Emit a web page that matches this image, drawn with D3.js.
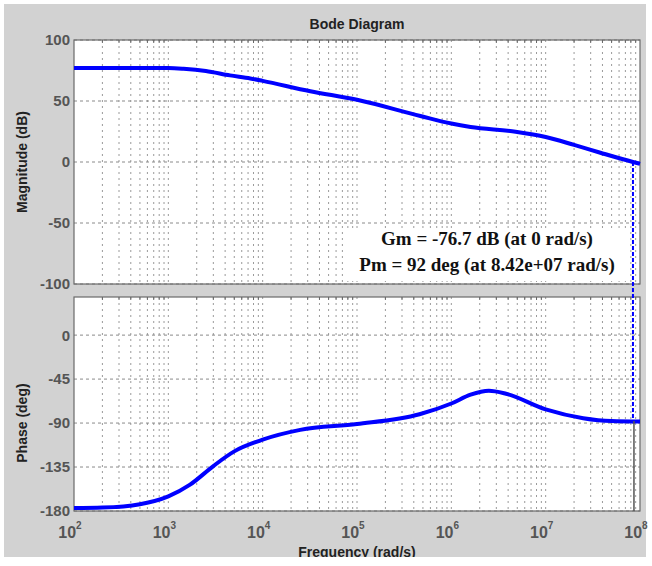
<!DOCTYPE html>
<html>
<head>
<meta charset="utf-8">
<script src="https://cdn.jsdelivr.net/npm/d3@7"></script>
<style>
  body { margin: 0; background: #fff; }
  text { font-family: "Liberation Sans", Arial, sans-serif; }
</style>
</head>
<body>
<div id="chart"></div>
<script>
// magnitude readings (rad/s, dB)
const magFreq = [1e2, 3e2, 1e3, 1.45e3, 2.5e3, 4.5e3, 7.4e3, 1e4, 3.2e4, 1e5, 4.7e5, 1e6, 1.6e6, 4.8e6, 1e7, 2e7, 3.8e7, 8.42e7, 1e8];
const magDb   = [77, 77, 77, 76.4, 74.6, 71, 68.5, 66.5, 58, 51, 37.7, 31.5, 28.7, 24.8, 20.5, 14, 7.6, 0, -1.5];

// phase readings (rad/s, deg)
const phaseFreq = [1e2, 2e2, 5e2, 1e3, 1.7e3, 3e3, 5e3, 1e4, 2.5e4, 1e5, 4.6e5, 1e6, 1.6e6, 2.5e6, 3.8e6, 1e7, 2.5e7, 5e7, 1e8];
const phaseDeg  = [-177, -176.5, -173, -165, -153, -134, -119, -107, -97, -91, -81, -70, -61, -57, -60, -76, -85, -88, -88.5];

const magTicks = [100, 50, 0, -50, -100];
const phaseTicks = [0, -45, -90, -135, -180];
const freqTicks = [1e2, 1e3, 1e4, 1e5, 1e6, 1e7, 1e8];

const wc = 8.42e7;           // gain crossover
const pmAtWc = -88;          // phase at crossover
const gmText = "Gm = -76.7 dB (at 0 rad/s)";
const pmText = "Pm = 92 deg (at 8.42e+07 rad/s)";

const width = 652, height = 566;
const left = 74, right = 640;

const svg = d3.select("#chart").append("svg")
    .attr("width", width)
    .attr("height", height);

// gray figure background
svg.append("rect")
    .attr("x", 4).attr("y", 4)
    .attr("width", 642).attr("height", 553)
    .attr("fill", "#d2d2d2");

const x = d3.scaleLog().domain([1e2, 1e8]).range([left, right]);
const yMag = d3.scaleLinear().domain([-100, 100]).range([284, 40]);
const yPh = d3.scaleLinear().domain([-180, 39]).range([511, 297]);

const minorFreqs = [];
for (let e = 2; e < 8; e++) {
    for (let k = 2; k <= 9; k++) minorFreqs.push(k * Math.pow(10, e));
}

const drawPanel = (y, ticks) => {
    const [y0, y1] = y.range();
    const g = svg.append("g");
    g.append("rect")
        .attr("x", left).attr("y", y1)
        .attr("width", right - left).attr("height", y0 - y1)
        .attr("fill", "#fff");

    // vertical grid (major + minor)
    g.selectAll(".vgrid")
        .data(minorFreqs.concat(freqTicks.slice(1, -1)))
        .join("line")
        .attr("x1", d => x(d)).attr("x2", d => x(d))
        .attr("y1", y1).attr("y2", y0)
        .attr("stroke", "#9a9a9a")
        .attr("stroke-width", 1)
        .attr("stroke-dasharray", "2,4");

    // horizontal grid
    g.selectAll(".hgrid")
        .data(ticks)
        .join("line")
        .attr("x1", left).attr("x2", right)
        .attr("y1", d => y(d)).attr("y2", d => y(d))
        .attr("stroke", "#8a8a8a")
        .attr("stroke-width", 1)
        .attr("stroke-dasharray", "3,3");

    // small ticks on top border
    g.selectAll(".mtick")
        .data(minorFreqs)
        .join("line")
        .attr("x1", d => x(d)).attr("x2", d => x(d))
        .attr("y1", y1).attr("y2", y1 + 3)
        .attr("stroke", "#666");

    g.append("rect")
        .attr("x", left).attr("y", y1)
        .attr("width", right - left).attr("height", y0 - y1)
        .attr("fill", "none")
        .attr("stroke", "#6a6a6a")
        .attr("stroke-width", 1.2);

    g.selectAll(".ylab")
        .data(ticks)
        .join("text")
        .attr("x", left - 4)
        .attr("y", d => y(d))
        .attr("dy", "0.36em")
        .attr("text-anchor", "end")
        .attr("font-size", 15)
        .attr("font-weight", "bold")
        .attr("fill", "#555")
        .text(d => d);
    return g;
};

const gMag = drawPanel(yMag, magTicks);
const gPh = drawPanel(yPh, phaseTicks);

// margin annotation box
gMag.append("rect")
    .attr("x", 345).attr("y", 228)
    .attr("width", 283).attr("height", 53)
    .attr("fill", "#fff");

const line = d3.line().curve(d3.curveMonotoneX);

gMag.append("path")
    .attr("d", line(magFreq.map((f, i) => [x(f), yMag(magDb[i])])))
    .attr("fill", "none")
    .attr("stroke", "#0000ff")
    .attr("stroke-width", 4);

gPh.append("path")
    .attr("d", line(phaseFreq.map((f, i) => [x(f), yPh(phaseDeg[i])])))
    .attr("fill", "none")
    .attr("stroke", "#0000ff")
    .attr("stroke-width", 4);

// crossover markers
svg.append("line")
    .attr("x1", x(wc)).attr("x2", x(wc))
    .attr("y1", yMag(0)).attr("y2", yPh(pmAtWc))
    .attr("stroke", "#0000ff")
    .attr("stroke-width", 2)
    .attr("stroke-dasharray", "4,2");
svg.append("line")
    .attr("x1", x(wc) + 1).attr("x2", x(wc) + 1)
    .attr("y1", yPh(pmAtWc)).attr("y2", yPh(-180))
    .attr("stroke", "#555")
    .attr("stroke-width", 1.5);

// annotation text
const ann = svg.append("g")
    .attr("font-weight", "bold")
    .attr("font-size", 19)
    .attr("fill", "#111")
    .attr("text-anchor", "middle");
ann.append("text").attr("x", 487).attr("y", 245).style("font-family", "'Liberation Serif', serif").text(gmText);
ann.append("text").attr("x", 487).attr("y", 271).style("font-family", "'Liberation Serif', serif").text(pmText);

// x tick labels 10^n
const xl = svg.append("g")
    .selectAll("text")
    .data(freqTicks)
    .join("text")
    .attr("x", d => x(d) - 4)
    .attr("y", 538)
    .attr("text-anchor", "middle")
    .attr("font-size", 16)
    .attr("font-weight", "bold")
    .attr("fill", "#555");
xl.append("tspan").text("10");
xl.append("tspan")
    .attr("dy", -9)
    .attr("font-size", 10)
    .text(d => Math.round(Math.log10(d)));

// titles
svg.append("text")
    .attr("x", 357).attr("y", 29)
    .attr("text-anchor", "middle")
    .attr("font-size", 14)
    .attr("font-weight", "bold")
    .attr("fill", "#222")
    .text("Bode Diagram");

svg.append("text")
    .attr("x", 357).attr("y", 557)
    .attr("text-anchor", "middle")
    .attr("font-size", 14)
    .attr("font-weight", "bold")
    .attr("fill", "#222")
    .text("Frequency  (rad/s)");

svg.append("text")
    .attr("transform", `translate(27, ${yMag(0)}) rotate(-90)`)
    .attr("text-anchor", "middle")
    .attr("font-size", 14)
    .attr("font-weight", "bold")
    .attr("fill", "#222")
    .text("Magnitude (dB)");

svg.append("text")
    .attr("transform", `translate(27, ${yPh(-90)}) rotate(-90)`)
    .attr("text-anchor", "middle")
    .attr("font-size", 14)
    .attr("font-weight", "bold")
    .attr("fill", "#222")
    .text("Phase (deg)");

// white strip under the figure clips the x label like the original
svg.append("rect")
    .attr("x", 0).attr("y", 557)
    .attr("width", width).attr("height", 9)
    .attr("fill", "#fff");
</script>
</body>
</html>
